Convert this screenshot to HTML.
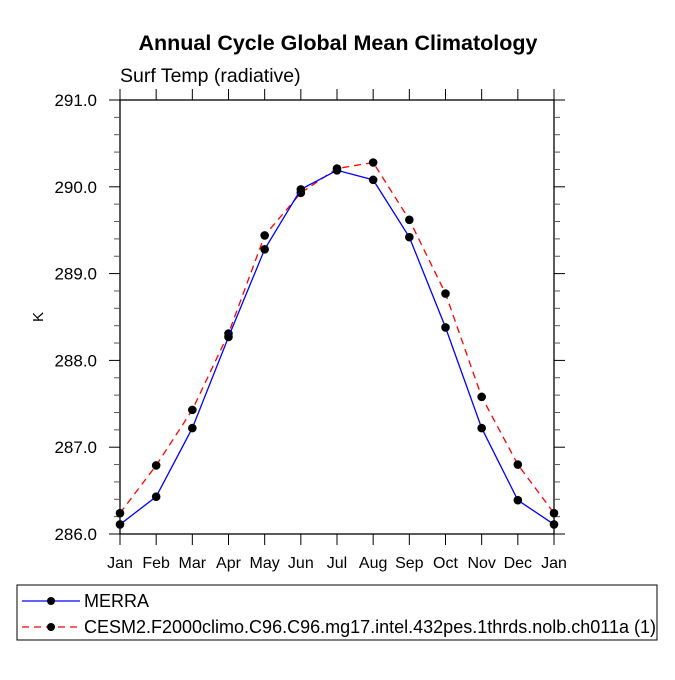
<!DOCTYPE html>
<html><head><meta charset="utf-8"><style>
body{margin:0;background:#fff}
svg text{font-family:"Liberation Sans",Arial,sans-serif;fill:#000}
</style></head><body>
<svg width="675" height="675" viewBox="0 0 675 675" xmlns="http://www.w3.org/2000/svg">
<rect width="675" height="675" fill="#fff"/>
<text x="338" y="50" text-anchor="middle" font-size="21.5" font-weight="bold">Annual Cycle Global Mean Climatology</text>
<text x="120" y="82" font-size="19.5">Surf Temp (radiative)</text>
<text transform="translate(43,317) rotate(-90)" text-anchor="middle" font-size="15">K</text>
<g id="axes"></g>
<g id="series"></g>
<rect x="17" y="585" width="640" height="55" fill="none" stroke="#000" stroke-width="1"/>
<line x1="22" y1="601" x2="80" y2="601" stroke="#00f" stroke-width="1.3"/>
<circle cx="51" cy="601" r="4" fill="#000"/>
<text x="84" y="607" font-size="18">MERRA</text>
<line x1="22" y1="627" x2="80" y2="627" stroke="#f00" stroke-width="1.3" stroke-dasharray="7,5"/>
<circle cx="51" cy="627" r="4" fill="#000"/>
<text x="84" y="633" font-size="18">CESM2.F2000climo.C96.C96.mg17.intel.432pes.1thrds.nolb.ch011a (1)</text>
</svg>
<script>
const months=["Jan","Feb","Mar","Apr","May","Jun","Jul","Aug","Sep","Oct","Nov","Dec","Jan"];
const merra=[286.11,286.43,287.22,288.27,289.28,289.97,290.19,290.08,289.42,288.38,287.22,286.39,286.11];
const cesm=[286.24,286.79,287.43,288.31,289.44,289.93,290.21,290.28,289.62,288.77,287.58,286.80,286.24];
const yTicks=[286,287,288,289,290,291];
const yTickLabels=["286.0","287.0","288.0","289.0","290.0","291.0"];
const NS="http://www.w3.org/2000/svg";
const L=120,R=554,T=100,B=534,yMin=286,yMax=291;
const x=i=>L+(R-L)*i/(months.length-1);
const y=v=>B-(v-yMin)/(yMax-yMin)*(B-T);
function mk(tag,attrs,parent){const e=document.createElementNS(NS,tag);for(const k in attrs)e.setAttribute(k,attrs[k]);parent.appendChild(e);return e;}
const ax=document.getElementById('axes'),se=document.getElementById('series');
const fr=mk('rect',{x:L,y:T,width:R-L,height:B-T,fill:'none',stroke:'#000','stroke-width':1.3},ax);


months.forEach((m,i)=>{
  const t1=mk('line',{x1:x(i),y1:B,x2:x(i),y2:B+11,stroke:'#000'},ax);
  
  
  const t2=mk('line',{x1:x(i),y1:T,x2:x(i),y2:T-11,stroke:'#000'},ax);
  
  
  const tx=mk('text',{x:x(i),y:B+34,'text-anchor':'middle','font-size':16},ax);
  tx.textContent=m;
  
  
});
for(let v=yMin;v<=yMax+1e-6;v+=0.2){
  const major=Math.abs(v-Math.round(v))<1e-6;const len=major?11:6;
  const a=mk('line',{x1:L,y1:y(v),x2:L-len,y2:y(v),stroke:major?'#000':'#555'},ax);
  
  
  const b=mk('line',{x1:R,y1:y(v),x2:R+len,y2:y(v),stroke:major?'#000':'#555'},ax);
  
  
}
yTicks.forEach((v,i)=>{
  const tx=mk('text',{x:L-23,y:y(v)+6,'text-anchor':'end','font-size':17},ax);
  tx.textContent=yTickLabels[i];
  
  
});
function series(vals,color,dash,name){
  const p=mk('polyline',{points:vals.map((v,i)=>x(i)+','+y(v)).join(' '),fill:'none',stroke:color,'stroke-width':1.3,'stroke-dasharray':dash},se);
  
  
  vals.forEach((v,i)=>{
    const c=mk('circle',{cx:x(i),cy:y(v),r:4.3,fill:'#000'},se);
    
    
  });
}
series(cesm,'#f00','7,5','cesm');
series(merra,'#00f','none','merra');
</script>
</body></html>
